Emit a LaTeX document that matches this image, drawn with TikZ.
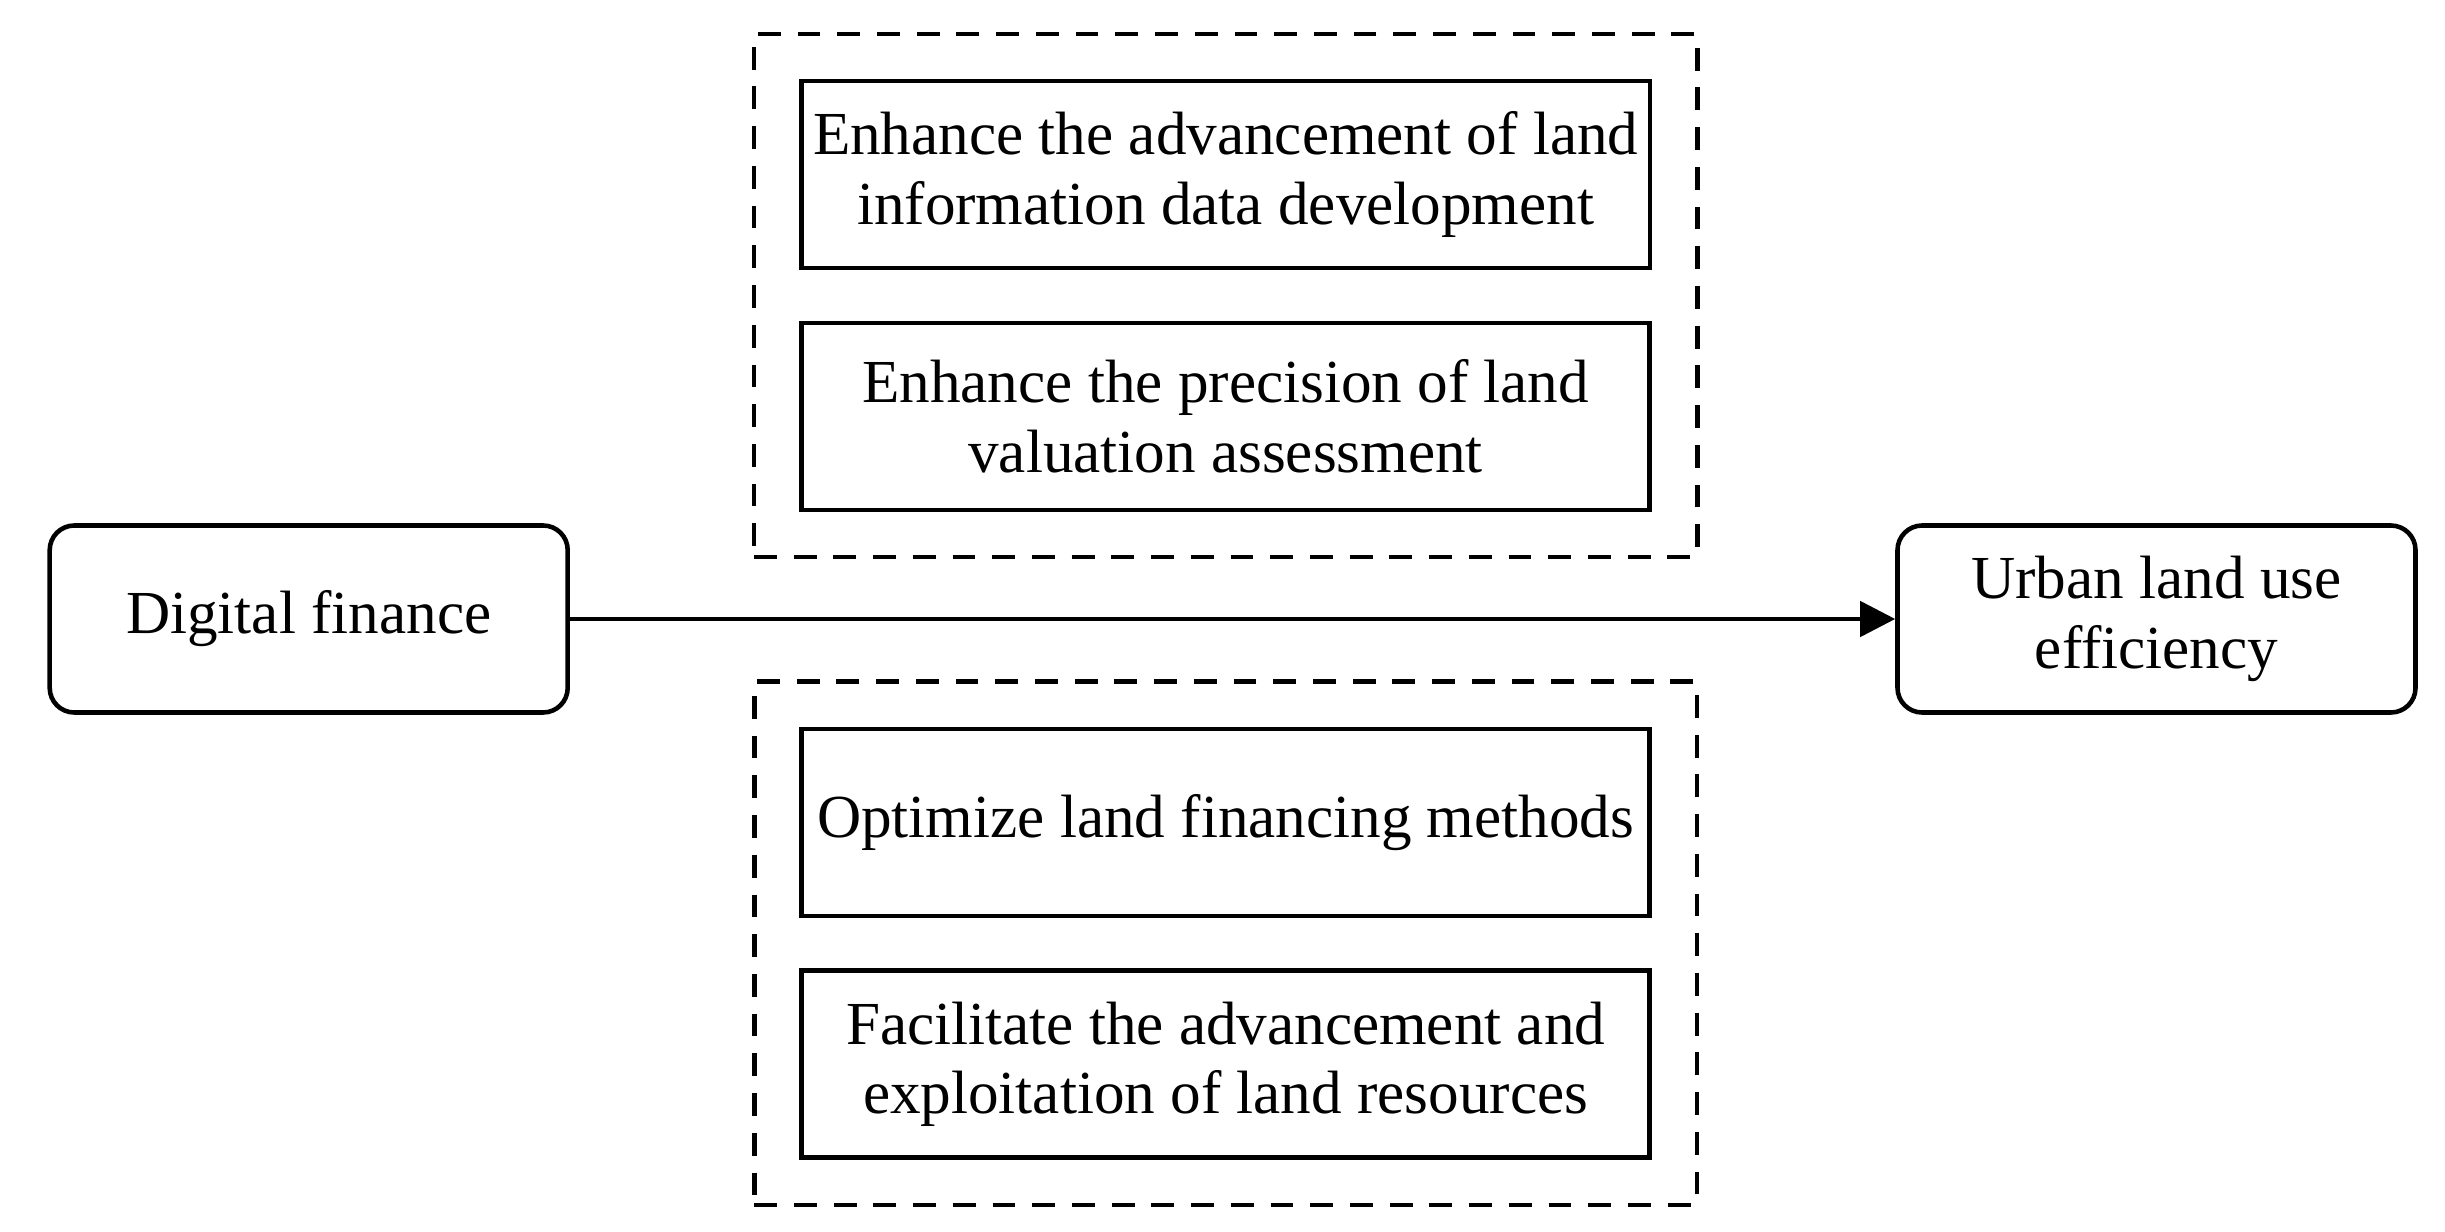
\documentclass[tikz,border=0pt]{standalone}
\usepackage{fontspec}
\setmainfont{Liberation Serif}
\usetikzlibrary{positioning, arrows.meta, fit}
\tikzstyle{endpoint} = [rectangle, rounded corners=7pt, minimum width=5.18cm, minimum height=1.87cm, text centered, align=center, draw=black, line width=1.3pt]
\tikzstyle{pathway} = [rectangle, minimum width=8.48cm, minimum height=1.87cm, text centered, align=center, draw=black, line width=1.3pt]
\tikzstyle{group} = [rectangle, draw=black, line width=1.3pt, dash pattern=on 6.5pt off 4.8pt, inner sep=0.45cm]
\tikzstyle{arrow} = [line width=1.3pt, -{Triangle[length=10pt,width=10pt]}]

\begin{document}
\begin{tikzpicture}[node distance=2.417cm, font=\fontsize{17.4}{19.8}\selectfont]
\useasboundingbox (0,0) rectangle (24.45,-12.318);

% Nodes
\node (landdata) [pathway] at (12.256,-1.746) {Enhance the advancement of land\\information data development};
\node (valuation) [pathway, below of=landdata] {Enhance the precision of land\\valuation assessment};
\node (financing) [pathway, below of=valuation, yshift=-1.645cm] {Optimize land financing methods};
\node (resources) [pathway, below of=financing] {Facilitate the advancement and\\exploitation of land resources};
\node (digital) [endpoint] at (3.087,-6.19) {Digital finance};
\node (urban) [endpoint] at (21.565,-6.19) {Urban land use\\efficiency};

% Groups
\node (grpa) [group, fit=(landdata)(valuation)] {};
\node (grpb) [group, fit=(financing)(resources)] {};

% Arrows
\draw [arrow] (digital) -- (urban);

\end{tikzpicture}
\end{document}
